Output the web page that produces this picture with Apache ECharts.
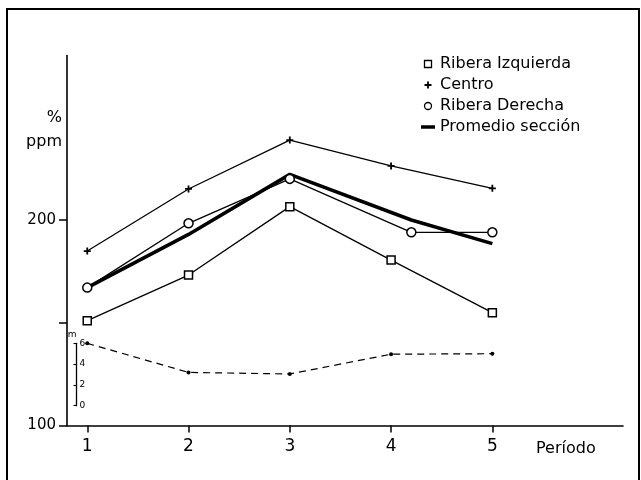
<!DOCTYPE html>
<html>
<head>
<meta charset="utf-8">
<script src="https://cdn.jsdelivr.net/npm/echarts@6/dist/echarts.min.js"></script>
<style>
  html, body { margin: 0; padding: 0; background: #fff; }
  #chart { width: 641px; height: 480px; }
</style>
</head>
<body>
<div id="chart"></div>
<script>
// ---- data ----
const periodTicks = [1, 2, 3, 4, 5];
const yTicks = [100, 150, 200];
const yLabels = [100, 200];
const depthTicks = [0, 2, 4, 6];

const izquierdaX = [1, 2, 3, 4, 5];
const izquierda = [151.0, 173.2, 206.5, 180.5, 154.9];

const centroX = [1, 2, 3, 4, 5];
const centro = [184.9, 215.1, 238.9, 226.3, 215.4];

const derechaX = [1, 2, 3, 4.2, 5];
const derecha = [167.1, 198.4, 220.0, 194.0, 194.0];

const promedioX = [1, 2, 3, 4.2, 5];
const promedio = [167.1, 193.0, 222.2, 200.0, 188.5];

const depthX = [1, 2, 3, 4, 5];
const depth = [6.0, 3.2, 3.05, 4.95, 5.0];

const names = ['Ribera Izquierda', 'Centro', 'Ribera Derecha', 'Promedio sección'];

const zip = (xs, ys) => xs.map((x, i) => [x, ys[i]]);

const FONT = 'DejaVu Sans';
const plusPath = 'path://M2.6,0H4.4V2.6H7V4.4H4.4V7H2.6V4.4H0V2.6H2.6Z';
const squarePath = 'path://M0,0H10V10H0Z';

const chart = echarts.init(document.getElementById('chart'), null, { renderer: 'canvas' });

chart.setOption({
  backgroundColor: '#ffffff',
  animation: false,
  textStyle: { fontFamily: FONT, color: '#000' },
  graphic: [{
    type: 'rect',
    shape: { x: 7, y: 9, width: 632, height: 490 },
    style: { fill: 'none', stroke: '#000', lineWidth: 2 },
    silent: true
  }],
  legend: {
    orient: 'vertical',
    left: 416,
    top: 51,
    itemWidth: 14,
    itemHeight: 7,
    itemGap: 5,
    textStyle: { fontFamily: FONT, fontSize: 16, color: '#000' },
    data: [
      { name: names[0], icon: squarePath, itemStyle: { color: '#fff', borderColor: '#000', borderWidth: 1.3 } },
      { name: names[1], icon: plusPath, itemStyle: { color: '#000', borderWidth: 0 } },
      { name: names[2], icon: 'circle', itemStyle: { color: '#fff', borderColor: '#000', borderWidth: 1.3 } },
      { name: names[3], icon: 'path://M0,0H14V3.5H0Z', itemStyle: { color: '#000', borderWidth: 0 } }
    ]
  },
  grid: [
    { left: 67, right: 18, top: 55.6, bottom: 54.5 },
    { left: 67, right: 18, top: 343.3, bottom: 74.3 }
  ],
  xAxis: [{
    type: 'value',
    gridIndex: 0,
    min: 0.8,
    max: 6.29,
    name: 'Período',
    nameLocation: 'end',
    nameGap: -87,
    nameMoveOverlap: false,
    nameTextStyle: { fontFamily: FONT, fontSize: 16, color: '#000', align: 'left', verticalAlign: 'top', padding: [15, 0, 0, 0] },
    axisLine: { show: true, onZero: false, lineStyle: { color: '#000', width: 1.6 } },
    axisTick: { show: true, inside: false, length: 7, customValues: periodTicks, lineStyle: { color: '#000', width: 1.5 } },
    axisLabel: { customValues: periodTicks, fontSize: 17, color: '#000', margin: 13, fontFamily: FONT },
    splitLine: { show: false }
  }, {
    type: 'value',
    gridIndex: 1,
    min: 0.8,
    max: 6.29,
    show: false
  }],
  yAxis: [{
    type: 'value',
    gridIndex: 0,
    min: 100,
    max: 280,
    name: '%\nppm',
    nameLocation: 'end',
    nameGap: -98,
    nameTextStyle: { fontFamily: FONT, fontSize: 16, color: '#000', align: 'right', verticalAlign: 'bottom', lineHeight: 24, padding: [0, 5, 0, 0] },
    axisLine: { show: true, onZero: false, lineStyle: { color: '#000', width: 1.6 } },
    axisTick: { show: true, length: 8, customValues: yTicks, lineStyle: { color: '#000', width: 1.5 } },
    axisLabel: { customValues: yLabels, fontSize: 15, color: '#000', margin: 11, fontFamily: FONT },
    splitLine: { show: false }
  }, {
    type: 'value',
    gridIndex: 1,
    min: 0,
    max: 6,
    interval: 2,
    offset: -9.5,
    name: 'm',
    nameLocation: 'end',
    nameGap: 3,
    nameTextStyle: { fontFamily: FONT, fontSize: 9, color: '#000', align: 'right' },
    axisLine: { show: true, onZero: false, lineStyle: { color: '#000', width: 1.3 } },
    axisTick: { show: true, length: 3, customValues: depthTicks, lineStyle: { color: '#000', width: 1.1 } },
    axisLabel: { inside: true, customValues: depthTicks, fontSize: 9, color: '#000', margin: 3, fontFamily: FONT },
    splitLine: { show: false }
  }],
  series: [{
    name: names[0],
    type: 'line',
    data: zip(izquierdaX, izquierda),
    symbol: 'rect',
    symbolSize: 8,
    color: '#000',
    lineStyle: { color: '#000', width: 1.3 },
    itemStyle: { color: '#fff', borderColor: '#000', borderWidth: 1.5 },
    z: 3
  }, {
    name: names[1],
    type: 'line',
    data: zip(centroX, centro),
    symbol: plusPath,
    symbolSize: 7,
    color: '#000',
    lineStyle: { color: '#000', width: 1.3 },
    itemStyle: { color: '#000' },
    z: 3
  }, {
    name: names[2],
    type: 'line',
    data: zip(derechaX, derecha),
    symbol: 'circle',
    symbolSize: 9,
    color: '#000',
    lineStyle: { color: '#000', width: 1.3 },
    itemStyle: { color: '#fff', borderColor: '#000', borderWidth: 1.5 },
    z: 4
  }, {
    name: names[3],
    type: 'line',
    data: zip(promedioX, promedio),
    showSymbol: false,
    symbol: 'none',
    color: '#000',
    lineStyle: { color: '#000', width: 3.5 },
    z: 2
  }, {
    name: 'Profundidad',
    type: 'line',
    xAxisIndex: 1,
    yAxisIndex: 1,
    data: zip(depthX, depth),
    symbol: 'circle',
    symbolSize: 4,
    color: '#000',
    lineStyle: { color: '#000', width: 1.2, type: [7, 5] },
    itemStyle: { color: '#000' },
    z: 3
  }]
});
</script>
</body>
</html>
